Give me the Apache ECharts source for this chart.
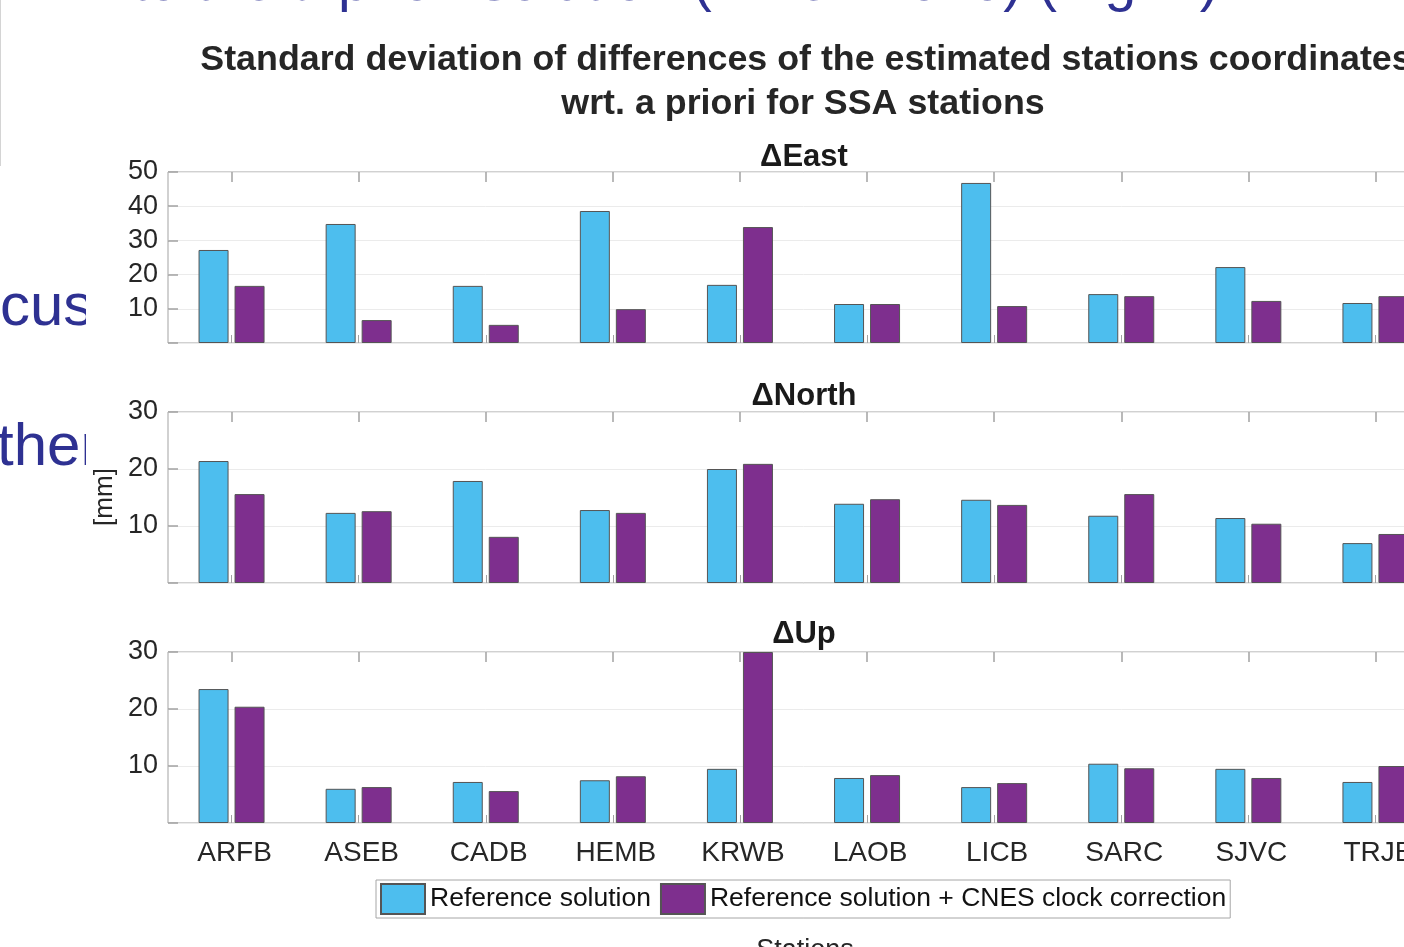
<!DOCTYPE html>
<html>
<head>
<meta charset="utf-8">
<title>Standard deviation of differences</title>
<script src="https://cdn.jsdelivr.net/npm/echarts@6/dist/echarts.min.js"></script>
<style>
  html, body {
    margin: 0;
    padding: 0;
    background: #fff;
    overflow: hidden;
  }
  #main {
    width: 1460px;
    height: 947px;
  }
</style>
</head>
<body>
<div id="main"></div>
<script>
var stations = ["ARFB", "ASEB", "CADB", "HEMB", "KRWB", "LAOB", "LICB", "SARC", "SJVC", "TRJB"];

var eastRef = [27.2, 34.8, 16.7, 38.6, 17.0, 11.4, 46.8, 14.3, 22.2, 11.7];
var eastCnes = [16.7, 6.7, 5.3, 9.9, 33.9, 11.4, 10.8, 13.7, 12.3, 13.7];

var northRef = [21.4, 12.3, 17.9, 12.8, 20.0, 13.9, 14.6, 11.8, 11.4, 7.0];
var northCnes = [15.6, 12.6, 8.1, 12.3, 20.9, 14.7, 13.7, 15.6, 10.4, 8.6];

var upRef = [23.5, 6.0, 7.2, 7.5, 9.5, 7.9, 6.3, 10.4, 9.5, 7.2];
var upCnes = [20.4, 6.3, 5.6, 8.2, 30.0, 8.4, 7.0, 9.6, 7.9, 10.0];

var panelTitles = ["\u0394East", "\u0394North", "\u0394Up"];
var panelMax = [50, 30, 30];

var refName = "Reference solution";
var cnesName = "Reference solution + CNES clock correction";

var FONT = '"Liberation Sans", Arial, Helvetica, sans-serif';
var blue = "#4DBEEE";
var purple = "#7E2F8E";
var frame = "#a3a3a3";

var panelTop = [172, 412, 652];
var panelHeight = 171;
var refData = [eastRef, northRef, upRef];
var cnesData = [eastCnes, northCnes, upCnes];

var grids = [];
var xAxes = [];
var yAxes = [];
var series = [];

panelTop.forEach(function (top, i) {
  grids.push({
    left: 168,
    top: top,
    width: 1271,
    height: panelHeight,
    show: true,
    borderColor: frame,
    borderWidth: 1,
    backgroundColor: "transparent",
  });
  // bottom axis (labels only on the last panel)
  xAxes.push({
    gridIndex: i,
    type: "category",
    position: "bottom",
    data: stations,
    axisLine: { show: false },
    axisTick: {
      show: true,
      inside: true,
      length: 8,
      interval: 0,
      alignWithLabel: true,
      lineStyle: { color: frame },
    },
    axisLabel: {
      show: i === 2,
      interval: 0,
      margin: 16,
      fontSize: 28,
      fontFamily: FONT,
      color: "#262626",
      padding: [0, 0, 0, 6],
    },
  });
  // top axis, ticks only
  xAxes.push({
    gridIndex: i,
    type: "category",
    position: "top",
    data: stations,
    axisLine: { show: false },
    axisTick: {
      show: true,
      inside: true,
      length: 10,
      interval: 0,
      alignWithLabel: true,
      lineStyle: { color: frame, width: 1.5 },
    },
    axisLabel: { show: false },
  });
  yAxes.push({
    gridIndex: i,
    type: "value",
    min: 0,
    max: panelMax[i],
    interval: 10,
    axisLine: { show: false },
    axisTick: {
      show: true,
      inside: true,
      length: 10,
      lineStyle: { color: frame, width: 1.5 },
    },
    axisLabel: {
      margin: 10,
      fontSize: 27,
      fontFamily: FONT,
      color: "#262626",
      padding: [5, 0, 0, 0],
      formatter: function (v) {
        return v === 0 ? "" : v;
      },
    },
    splitLine: {
      show: true,
      lineStyle: { color: "#ebebeb", width: 1 },
    },
  });
  series.push({
    name: refName,
    type: "bar",
    xAxisIndex: i * 2,
    yAxisIndex: i,
    data: refData[i],
    barWidth: 30,
    barGap: "20%",
    itemStyle: { color: blue, borderColor: "#555", borderWidth: 1 },
  });
  series.push({
    name: cnesName,
    type: "bar",
    xAxisIndex: i * 2,
    yAxisIndex: i,
    data: cnesData[i],
    barWidth: 30,
    barGap: "20%",
    itemStyle: { color: purple, borderColor: "#555", borderWidth: 1 },
  });
});

var graphics = [
  // slide text behind the figure
  {
    type: "text",
    x: 132,
    y: 13,
    z: 10,
    style: {
      text: "to the a priori solution (DPOD2020) (Fig. 2).",
      font: '57px ' + FONT,
      fill: "#2E3192",
      verticalAlign: "bottom",
    },
  },
  {
    type: "text",
    x: 0,
    y: 338,
    z: 10,
    style: { text: "cus", font: '60px ' + FONT, fill: "#2E3192", verticalAlign: "bottom" },
  },
  {
    type: "text",
    x: -3,
    y: 478,
    z: 10,
    style: { text: "ther", font: '60px ' + FONT, fill: "#2E3192", verticalAlign: "bottom" },
  },
  { type: "rect", z: 20, shape: { x: 86, y: 270, width: 36, height: 70 }, style: { fill: "#fff" } },
  { type: "rect", z: 20, shape: { x: 86, y: 410, width: 36, height: 62 }, style: { fill: "#fff" } },
  { type: "line", z: 20, shape: { x1: 0.5, y1: 0, x2: 0.5, y2: 166 }, style: { stroke: "#d4d4d4", lineWidth: 1 } },
  // figure titles
  {
    type: "text",
    x: 806,
    y: 60,
    z: 30,
    style: {
      text: "Standard deviation of differences of the estimated stations coordinates",
      font: 'bold 35.8px ' + FONT,
      fill: "#262626",
      align: "center",
      verticalAlign: "middle",
    },
  },
  {
    type: "text",
    x: 803,
    y: 104,
    z: 30,
    style: {
      text: "wrt. a priori for SSA stations",
      font: 'bold 35.8px ' + FONT,
      fill: "#262626",
      align: "center",
      verticalAlign: "middle",
    },
  },
  {
    type: "text",
    x: 105,
    y: 497,
    z: 30,
    rotation: Math.PI / 2,
    style: {
      text: "[mm]",
      font: '26px ' + FONT,
      fill: "#262626",
      align: "center",
      verticalAlign: "middle",
    },
  },
  {
    type: "text",
    x: 805,
    y: 937,
    z: 30,
    style: {
      text: "Stations",
      font: '27px ' + FONT,
      fill: "#262626",
      align: "center",
      verticalAlign: "top",
    },
  },
];

var titleY = [157, 396, 634];
panelTitles.forEach(function (t, i) {
  graphics.push({
    type: "text",
    x: 804,
    y: titleY[i],
    z: 30,
    style: {
      text: t,
      font: 'bold 31px ' + FONT,
      fill: "#1a1a1a",
      align: "center",
      verticalAlign: "middle",
    },
  });
});

var option = {
  animation: false,
  backgroundColor: "transparent",
  grid: grids,
  xAxis: xAxes,
  yAxis: yAxes,
  legend: {
    left: 376,
    top: 880,
    orient: "horizontal",
    icon: "rect",
    itemWidth: 44,
    itemHeight: 30,
    itemGap: 9,
    padding: [3, 4, 3, 4],
    borderColor: "#a6a6a6",
    borderWidth: 1,
    backgroundColor: "#fff",
    data: [refName, cnesName],
    textStyle: { fontSize: 26.5, fontFamily: FONT, color: "#111" },
  },
  graphic: graphics,
  series: series,
};

var myChart = echarts.init(document.getElementById("main"));
myChart.setOption(option);
</script>
</body>
</html>
